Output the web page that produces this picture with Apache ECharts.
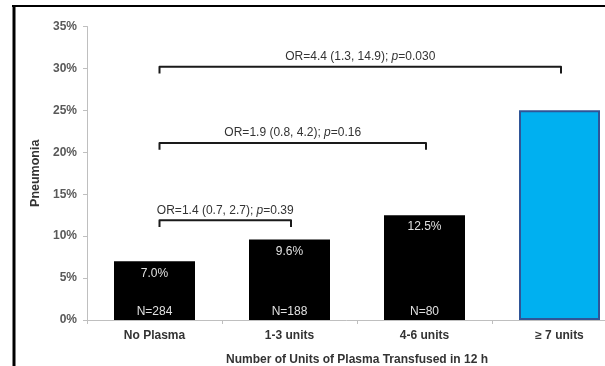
<!DOCTYPE html>
<html>
<head>
<meta charset="utf-8">
<script src="https://cdn.jsdelivr.net/npm/echarts@6/dist/echarts.min.js"></script>
<style>
  html, body { margin: 0; padding: 0; background: #fff; }
  #chart { width: 605px; height: 366px; }
</style>
</head>
<body>
<div id="chart"></div>
<script>
// Pneumonia rate by plasma units transfused in the first 12 hours
const categories = ['No Plasma', '1-3 units', '4-6 units', '\u2265 7 units'];
const pneumoniaPct = [7.0, 9.6, 12.5, 25.0];
const groupSizes = ['N=284', 'N=188', 'N=80', ''];
const yTicks = { min: 0, max: 35, step: 5 };

// Odds-ratio comparisons: [from category, to category, bracket height (%), text]
const comparisons = [
  [0, 1, 11.9, 'OR=1.4 (0.7, 2.7); ', '=0.39'],
  [0, 2, 21.1, 'OR=1.9 (0.8, 4.2); ', '=0.16'],
  [0, 3, 30.2, 'OR=4.4 (1.3, 14.9); ', '=0.030']
];

const FONT = '"Liberation Sans", Arial, sans-serif';
const chart = echarts.init(document.getElementById('chart'));

const barData = pneumoniaPct.map((v, i) => ({
  value: v,
  itemStyle: i === 3
    ? { color: '#00B0F0', borderColor: '#2F5597', borderWidth: 2 }
    : { color: '#000000' }
}));

chart.setOption({
  animation: false,
  textStyle: { fontFamily: FONT },
  grid: { left: 87, top: 26.5, height: 293.5, width: 540, outerBoundsMode: 'none', containLabel: false },
  xAxis: {
    type: 'category',
    data: categories,
    axisLine: { lineStyle: { color: '#bfbfbf', width: 1 } },
    axisTick: { show: true, length: 4, lineStyle: { color: '#bfbfbf' } },
    axisLabel: { fontSize: 12, fontWeight: 'bold', color: '#333', margin: 10, fontFamily: FONT },
    name: 'Number of Units of Plasma Transfused in 12 h',
    nameLocation: 'middle',
    nameGap: 34,
    nameTextStyle: { fontSize: 12, fontWeight: 'bold', color: '#333', fontFamily: FONT }
  },
  yAxis: {
    type: 'value',
    min: yTicks.min,
    max: yTicks.max,
    interval: yTicks.step,
    splitLine: { show: false },
    axisLine: { show: true, lineStyle: { color: '#bfbfbf', width: 1 } },
    axisTick: { show: true, length: 4, lineStyle: { color: '#bfbfbf' } },
    axisLabel: {
      formatter: '{value}%', fontSize: 12, fontWeight: 'bold', color: '#595959',
      margin: 10, fontFamily: FONT
    },
    name: 'Pneumonia',
    nameLocation: 'middle',
    nameGap: 38,
    nameTextStyle: { fontSize: 12.5, fontWeight: 'bold', color: '#333', fontFamily: FONT }
  },
  graphic: [
    { type: 'line', shape: { x1: 12, y1: 6, x2: 605, y2: 6 }, style: { stroke: '#000', lineWidth: 2 }, z: 100 },
    { type: 'line', shape: { x1: 14, y1: 5, x2: 14, y2: 366 }, style: { stroke: '#000', lineWidth: 3 }, z: 100 }
  ],
  series: [
    {
      type: 'bar',
      data: barData,
      barWidth: '60%',
      label: {
        show: true,
        position: 'insideTop',
        distance: 6,
        fontSize: 12,
        color: '#e0e0e0',
        fontFamily: FONT,
        formatter: p => (p.dataIndex === 3 ? '' : p.value.toFixed(1) + '%')
      },
      z: 2
    },
    {
      // transparent twin of the bars, carrying the group sizes at the base
      type: 'bar',
      data: pneumoniaPct,
      barWidth: '60%',
      barGap: '-100%',
      itemStyle: { color: 'transparent' },
      label: {
        show: true,
        position: 'insideBottom',
        distance: 2,
        fontSize: 12,
        color: '#e0e0e0',
        fontFamily: FONT,
        formatter: p => groupSizes[p.dataIndex]
      },
      silent: true,
      z: 3
    },
    {
      type: 'custom',
      data: comparisons.map(c => [c[0], c[1], c[2]]),
      silent: true,
      z: 4,
      renderItem: (params, api) => {
        const c = comparisons[params.dataIndex];
        const y = api.value(2);
        const a = api.coord([api.value(0), y]);
        const b = api.coord([api.value(1), y]);
        const hook = api.coord([api.value(0), y - 0.8]);
        const x1 = a[0] + 5, x2 = b[0] + 1.5, yl = a[1], yh = hook[1];
        return {
          type: 'group',
          children: [
            {
              type: 'polyline',
              shape: { points: [[x1, yh], [x1, yl], [x2, yl], [x2, yh]] },
              style: { stroke: '#1a1a1a', lineWidth: 2, fill: null, lineJoin: 'round' }
            },
            {
              type: 'text',
              x: (x1 + x2) / 2,
              y: yl - 4,
              style: {
                text: c[3] + '{i|p}' + c[4],
                align: 'center',
                verticalAlign: 'bottom',
                font: '12px ' + FONT,
                fill: '#333',
                rich: { i: { fontStyle: 'italic', fontSize: 12, fontFamily: FONT, fill: '#333' } }
              }
            }
          ]
        };
      }
    }
  ]
});
</script>
</body>
</html>
